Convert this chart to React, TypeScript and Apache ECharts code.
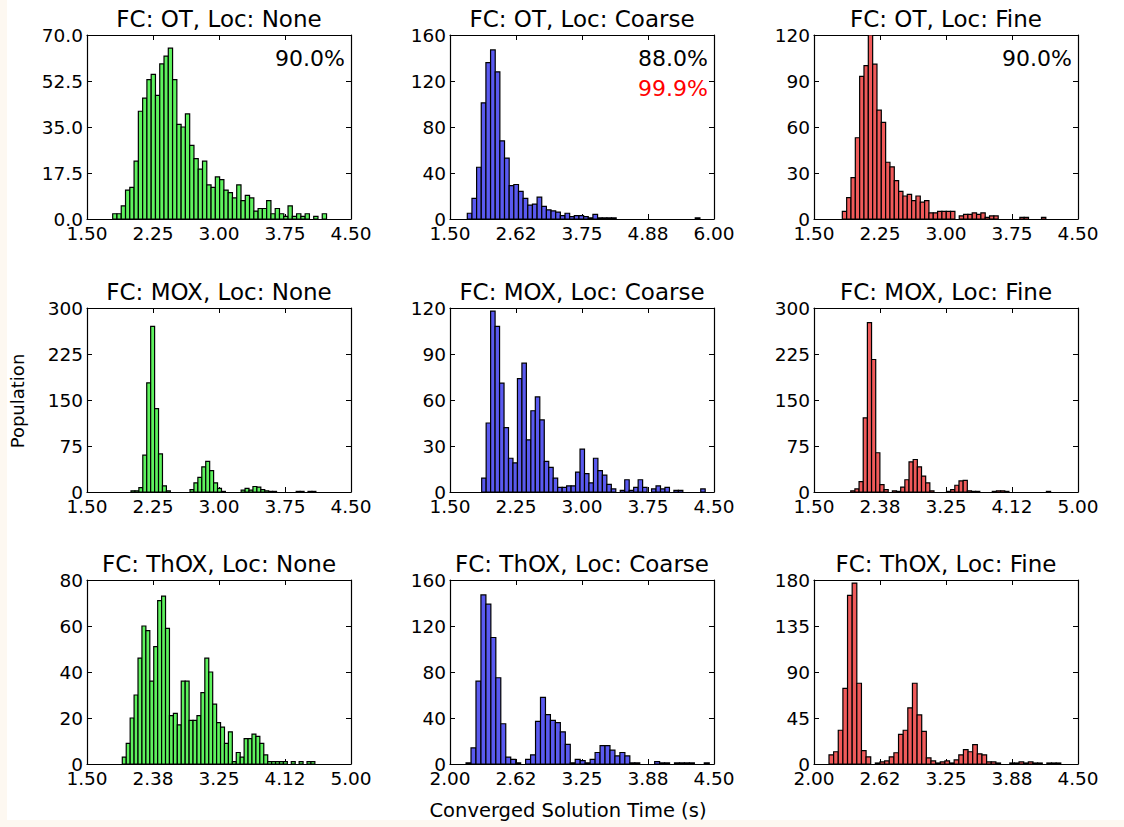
import React, { useEffect, useRef } from 'react';
import * as echarts from 'echarts';

const FONT = "'DejaVu Sans', 'Bitstream Vera Sans', sans-serif";

// ---- Panel labels ----
const fuelCycles = ['OT', 'MOX', 'ThOX'];
const locLevels = ['None', 'Coarse', 'Fine'];
const locColors = ['#5ef25e', '#5a5af0', '#f05a5a'];

// ---- Histogram counts, row-major: OT, MOX, ThOX x None, Coarse, Fine ----
const otNone = [2, 2, 5, 11, 12, 22, 41, 46, 53, 55, 47, 59, 62, 65, 53, 36, 35, 40, 28, 23, 19, 22, 13, 12, 16, 15, 11, 10, 8, 13, 7, 9, 8, 3, 4, 4, 7, 2, 4, 2, 1, 5, 1, 2, 1, 2, 0, 1, 0, 2];
const otCoarse = [5, 18, 45, 101, 136, 147, 128, 68, 53, 29, 30, 24, 18, 12, 13, 19, 11, 8, 7, 6, 3, 5, 2, 3, 3, 2, 1, 4, 1, 1, 1, 1, 0, 0, 0, 0, 0, 0, 0, 0, 0, 0, 0, 0, 0, 0, 0, 0, 0, 1];
const otFine = [5, 14, 27, 53, 93, 100, 120, 101, 71, 63, 37, 34, 25, 18, 15, 16, 12, 15, 11, 12, 4, 4, 5, 5, 5, 5, 0, 2, 3, 3, 4, 3, 4, 1, 2, 2, 0, 0, 0, 0, 0, 1, 1, 0, 0, 0, 1];
const moxNone = [2, 2, 7, 60, 178, 270, 136, 62, 10, 2, 0, 0, 0, 0, 0, 4, 15, 24, 41, 50, 35, 15, 6, 1, 0, 0, 0, 0, 3, 6, 3, 9, 8, 4, 2, 1, 1, 0, 0, 0, 0, 0, 1, 1, 0, 1, 1];
const moxCoarse = [9, 45, 118, 108, 71, 42, 22, 19, 74, 84, 34, 53, 62, 47, 20, 16, 9, 3, 3, 4, 4, 13, 28, 12, 6, 22, 14, 11, 5, 2, 0, 1, 8, 1, 3, 8, 3, 0, 2, 4, 2, 3, 0, 1, 1, 0, 0, 0, 0, 2];
const moxFine = [2, 5, 17, 121, 276, 216, 64, 12, 4, 0, 2, 1, 8, 20, 49, 53, 41, 26, 15, 2, 0, 0, 0, 1, 4, 11, 18, 19, 2, 1, 1, 0, 0, 0, 1, 2, 2, 1, 0, 0, 0, 0, 0, 0, 0, 0, 0, 1];
const thoxNone = [3, 9, 20, 30, 46, 60, 58, 36, 51, 71, 73, 59, 21, 22, 17, 36, 36, 19, 19, 21, 31, 46, 40, 26, 18, 16, 9, 14, 1, 5, 3, 11, 11, 13, 12, 9, 4, 1, 1, 1, 1, 1, 0, 1, 0, 1, 0, 1, 1];
const thoxCoarse = [1, 14, 72, 147, 139, 110, 75, 35, 6, 4, 1, 0, 4, 8, 37, 58, 43, 38, 36, 28, 17, 1, 4, 3, 1, 4, 10, 16, 16, 12, 7, 10, 7, 1, 1, 0, 0, 0, 2, 1, 1, 0, 1, 1, 1, 1, 0, 0, 1];
const thoxFine = [9, 12, 33, 74, 165, 177, 79, 13, 7, 0, 1, 2, 3, 7, 11, 29, 33, 55, 79, 48, 32, 6, 3, 1, 2, 3, 1, 4, 9, 14, 12, 19, 10, 9, 2, 2, 1, 0, 0, 1, 1, 2, 1, 2, 1, 1, 0, 1, 1, 1];

const panelCounts = [otNone, otCoarse, otFine, moxNone, moxCoarse, moxFine, thoxNone, thoxCoarse, thoxFine];

// ---- Bin edges: first edge and bin width for each panel ----
const binStarts = [1.792, 1.795, 1.822, 2.0, 1.86, 1.987, 1.968, 2.152, 2.142];
const binWidths = [0.0486, 0.0793, 0.0492, 0.0447, 0.0508, 0.0552, 0.0521, 0.047, 0.0439];

// ---- Axes ----
const xMins = [1.5, 1.5, 1.5, 1.5, 1.5, 1.5, 1.5, 2.0, 2.0];
const xMaxs = [4.5, 6.0, 4.5, 4.5, 4.5, 5.0, 5.0, 4.5, 4.5];
const xTickLabels = [
  ['1.50', '2.25', '3.00', '3.75', '4.50'],
  ['1.50', '2.62', '3.75', '4.88', '6.00'],
  ['1.50', '2.25', '3.00', '3.75', '4.50'],
  ['1.50', '2.25', '3.00', '3.75', '4.50'],
  ['1.50', '2.25', '3.00', '3.75', '4.50'],
  ['1.50', '2.38', '3.25', '4.12', '5.00'],
  ['1.50', '2.38', '3.25', '4.12', '5.00'],
  ['2.00', '2.62', '3.25', '3.88', '4.50'],
  ['2.00', '2.62', '3.25', '3.88', '4.50'],
];
const yMaxs = [70, 160, 120, 300, 120, 300, 80, 160, 180];
const yTickLabels = [
  ['0.0', '17.5', '35.0', '52.5', '70.0'],
  ['0', '40', '80', '120', '160'],
  ['0', '30', '60', '90', '120'],
  ['0', '75', '150', '225', '300'],
  ['0', '30', '60', '90', '120'],
  ['0', '75', '150', '225', '300'],
  ['0', '20', '40', '60', '80'],
  ['0', '40', '80', '120', '160'],
  ['0', '45', '90', '135', '180'],
];

// ---- Annotations (top row) ----
const convergedPct = ['90.0%', '88.0%', '90.0%'];
const coarseExtraPct = '99.9%';

const xAxisTitle = 'Converged Solution Time (s)';
const yAxisTitle = 'Population';

// ---- Layout ----
const colLefts = [87, 450, 814];
const rowTops = [35, 308, 580];
const PW = 264;
const PH = 184;

function buildOption() {
  const grid: any[] = [];
  const xAxis: any[] = [];
  const yAxis: any[] = [];
  const series: any[] = [];
  const graphic: any[] = [];

  const axisLine = { show: true, onZero: false, lineStyle: { color: '#000', width: 1.2 } };
  const axisTick = { show: true, inside: true, length: 5, lineStyle: { color: '#000', width: 1 } };

  for (let i = 0; i < 9; i++) {
    const r = Math.floor(i / 3);
    const c = i % 3;
    const left = colLefts[c];
    const top = rowTops[r];
    grid.push({ left, top, width: PW, height: PH, containLabel: false, show: false });

    const xMin = xMins[i];
    const xMax = xMaxs[i];
    const xInt = (xMax - xMin) / 4;
    const xLabs = xTickLabels[i];
    const yMax = yMaxs[i];
    const yInt = yMax / 4;
    const yLabs = yTickLabels[i];

    const xBase = {
      gridIndex: i, type: 'value', min: xMin, max: xMax, interval: xInt,
      axisLine, axisTick, splitLine: { show: false },
    };
    xAxis.push({
      ...xBase, position: 'bottom',
      axisLabel: {
        show: true, color: '#000', fontSize: 18.5, fontFamily: FONT, margin: 5,
        showMinLabel: true, showMaxLabel: true,
        formatter: (v: number) => xLabs[Math.round((v - xMin) / xInt)] ?? '',
      },
    });
    xAxis.push({ ...xBase, position: 'top', axisLabel: { show: false } });

    const yBase = {
      gridIndex: i, type: 'value', min: 0, max: yMax, interval: yInt,
      axisLine, axisTick, splitLine: { show: false },
    };
    yAxis.push({
      ...yBase, position: 'left',
      axisLabel: {
        show: true, color: '#000', fontSize: 18.5, fontFamily: FONT, margin: 4,
        showMinLabel: true, showMaxLabel: true,
        formatter: (v: number) => yLabs[Math.round(v / yInt)] ?? '',
      },
    });
    yAxis.push({ ...yBase, position: 'right', axisLabel: { show: false } });

    const counts = panelCounts[i];
    const start = binStarts[i];
    const w = binWidths[i];
    const data = counts.map((n, k) => [start + k * w, start + (k + 1) * w, n]);
    const fill = locColors[c];

    series.push({
      type: 'custom',
      xAxisIndex: i * 2,
      yAxisIndex: i * 2,
      clip: true,
      data,
      encode: { x: [0, 1], y: 2 },
      renderItem: (params: any, api: any) => {
        const h = api.value(2);
        if (!(h > 0)) return null;
        const p0 = api.coord([api.value(0), h]);
        const p1 = api.coord([api.value(1), 0]);
        return {
          type: 'rect',
          shape: { x: p0[0], y: p0[1], width: p1[0] - p0[0], height: p1[1] - p0[1] },
          style: { fill, stroke: '#000', lineWidth: 1.2 },
        };
      },
    });

    graphic.push({
      type: 'text',
      x: left + PW / 2,
      y: top - 16,
      style: {
        text: `FC: ${fuelCycles[r]}, Loc: ${locLevels[c]}`,
        font: `23px ${FONT}`,
        fill: '#000',
        textAlign: 'center',
        textVerticalAlign: 'middle',
      },
    });

    if (r === 0) {
      graphic.push({
        type: 'text',
        x: left + PW - 6,
        y: top + 23,
        style: {
          text: convergedPct[c],
          font: `22px ${FONT}`,
          fill: '#000',
          textAlign: 'right',
          textVerticalAlign: 'middle',
        },
      });
      if (c === 1) {
        graphic.push({
          type: 'text',
          x: left + PW - 6,
          y: top + 53,
          style: {
            text: coarseExtraPct,
            font: `22px ${FONT}`,
            fill: '#ff0000',
            textAlign: 'right',
            textVerticalAlign: 'middle',
          },
        });
      }
    }
  }

  graphic.push({
    type: 'text',
    x: 568,
    y: 810,
    style: {
      text: xAxisTitle,
      font: `19.5px ${FONT}`,
      fill: '#000',
      textAlign: 'center',
      textVerticalAlign: 'middle',
    },
  });
  graphic.push({
    type: 'text',
    x: 17,
    y: 401,
    rotation: Math.PI / 2,
    style: {
      text: yAxisTitle,
      font: `18px ${FONT}`,
      fill: '#000',
      textAlign: 'center',
      textVerticalAlign: 'middle',
    },
  });

  return {
    animation: false,
    backgroundColor: 'transparent',
    grid,
    xAxis,
    yAxis,
    series,
    graphic,
  };
}

export default function App() {
  const ref = useRef<HTMLDivElement>(null);
  useEffect(() => {
    if (!ref.current) return;
    const chart = echarts.init(ref.current, undefined, { renderer: 'svg' });
    chart.setOption(buildOption() as any);
    return () => chart.dispose();
  }, []);
  return (
    <div style={{ position: 'fixed', left: 0, top: 0, width: 1124, height: 827, background: '#fdf8f1' }}>
      <div style={{ position: 'absolute', left: 7, top: 0, width: 1117, height: 820, background: '#ffffff' }} />
      <div ref={ref} style={{ position: 'absolute', left: 0, top: 0, width: 1124, height: 827 }} />
    </div>
  );
}
